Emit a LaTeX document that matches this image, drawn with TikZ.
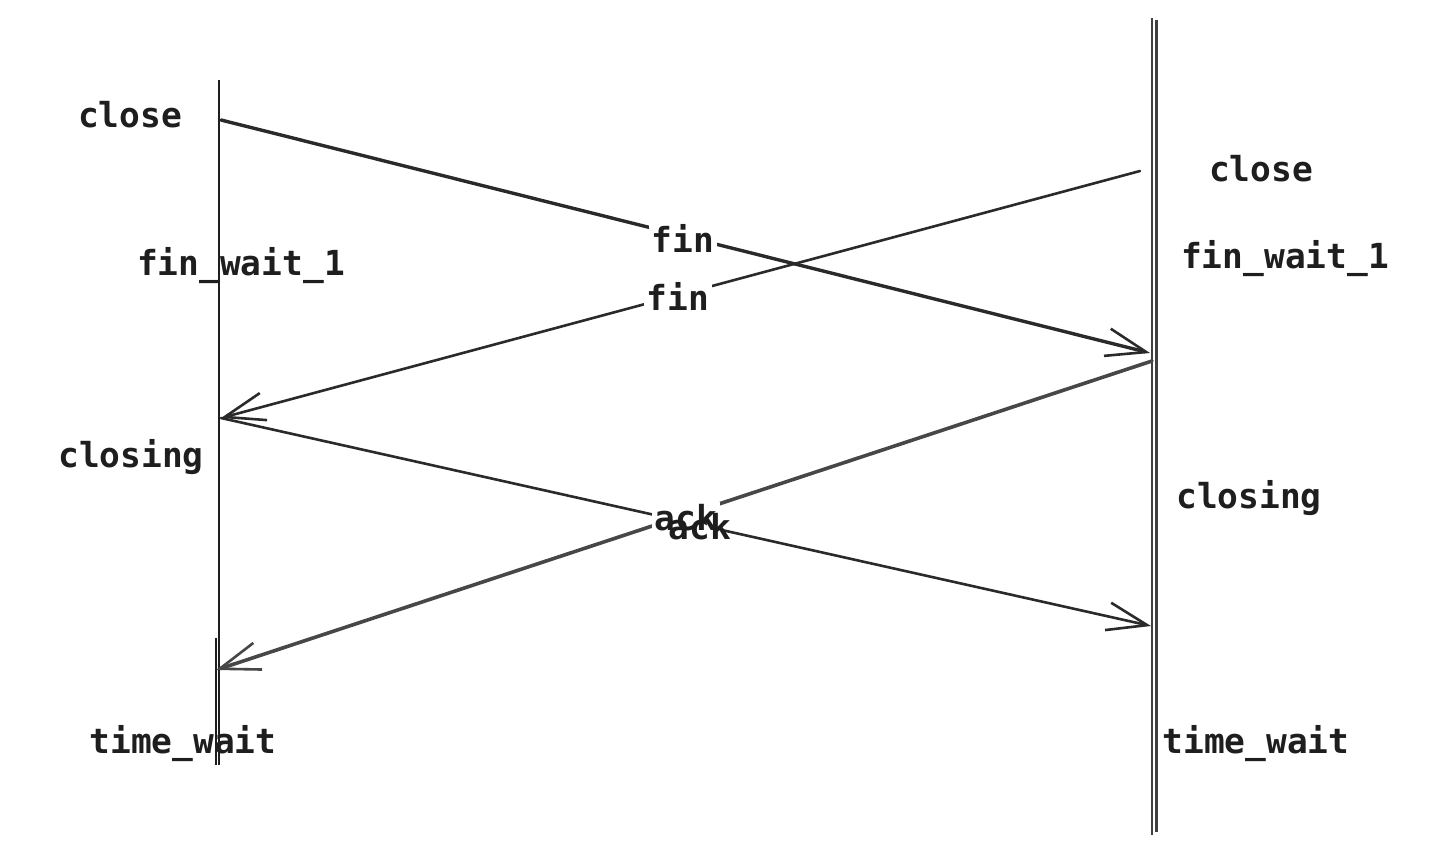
\documentclass[tikz,border=0pt]{standalone}
\usepackage{fontspec}
\newfontfamily\monofont{DejaVu Sans Mono}
\usetikzlibrary{arrows.meta}
\definecolor{ink}{HTML}{1E1E1E}
\definecolor{arrowink}{HTML}{2A2A2A}
\tikzset{
  state/.style={anchor=base, inner sep=0pt, font=\monofont\bfseries\fontsize{34.5}{40}\selectfont, text=ink},
  msg/.style={fill=white, inner sep=3pt, font=\monofont\bfseries\fontsize{34.5}{40}\selectfont, text=ink},
  life/.style={draw=ink, line width=2.4pt},
  sig/.style={draw=arrowink, line width=3pt, line cap=round, -{Straight Barb[length=40pt,width=28pt,line width=2.6pt]}},
}
\begin{document}
\begin{tikzpicture}[x=1pt,y=-1pt]
\useasboundingbox (0,0) rectangle (1444,861);
% lifelines
\coordinate (Ltop) at (219,80);
\coordinate (Lbot) at (219,765);
\coordinate (L2top) at (215.5,638);
\coordinate (L2bot) at (215.5,765);
\coordinate (Rtop) at (1152,18);
\coordinate (Rbot) at (1152,835);
\coordinate (R2top) at (1156.5,20);
\coordinate (R2bot) at (1156.5,832);
\draw[life] (Ltop) -- (Lbot);
\draw[life, line width=2pt] (L2top) -- (L2bot);
\draw[life, line width=2.6pt, draw=black!75] (Rtop) -- (Rbot);
\draw[life, line width=2.2pt, draw=black!75] (R2top) -- (R2bot);
% message end points
\coordinate (a1s) at (221,120);
\coordinate (a1e) at (1150,353);
\coordinate (a2s) at (1140,171);
\coordinate (a2e) at (221,418);
\coordinate (a3s) at (221,418);
\coordinate (a3e) at (1151,626);
\coordinate (a4s) at (1152,361);
\coordinate (a4e) at (216,670);
\draw[sig, line width=3.4pt] (a1s) -- (a1e);
\draw[sig, line width=2.6pt] (a2s) -- (a2e);
\draw[sig, line width=2.6pt] (a3s) -- (a3e);
\draw[sig, draw=black!72, line width=3.6pt] (a4s) -- (a4e);
% message labels
\node[msg] (fin1) at (683,238) {fin};
\node[msg] (fin2) at (678,296) {fin};
\node[msg] (ack4) at (686,518) {ack};
\node[msg, fill=none] (ack3) at (700,527) {ack};
% states left
\node[state] (lclose) at (130,128) {close};
\node[state] (lfw) at (241,276) {fin\_wait\_1};
\node[state] (lclosing) at (131,467) {closing};
\node[state] (ltw) at (183,753) {time\_wait};
% states right
\node[state] (rclose) at (1261,182) {close};
\node[state] (rfw) at (1285,269) {fin\_wait\_1};
\node[state] (rclosing) at (1249,508) {closing};
\node[state] (rtw) at (1256,753) {time\_wait};
\end{tikzpicture}
\end{document}
